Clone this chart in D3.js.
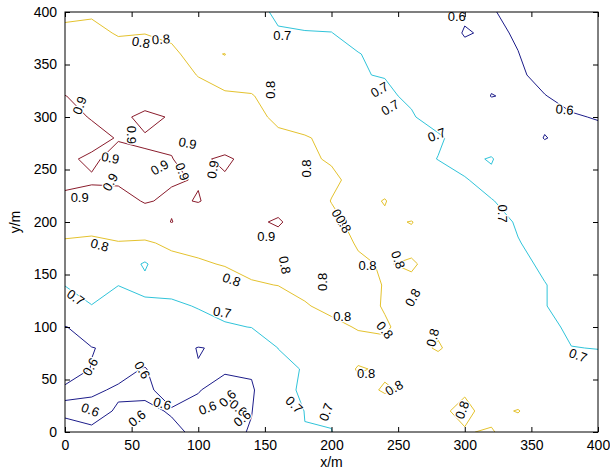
<!DOCTYPE html>
<html>
<head>
<meta charset="utf-8">
<script src="https://cdn.jsdelivr.net/npm/d3@7"></script>
<style>
  body { margin: 0; background: #fff; }
  text { font-family: "Liberation Sans", Arial, Helvetica, sans-serif; }
</style>
</head>
<body>
<svg id="chart" width="610" height="474"></svg>
<script>
// ---------------- data ----------------
const xTicks = [0, 50, 100, 150, 200, 250, 300, 350, 400];
const yTicks = [0, 50, 100, 150, 200, 250, 300, 350, 400];
const gridX = [0,20,40,60,80,100,120,140,160,180,200,220,240,260,280,300,320,340,360,380,400];
const gridY = [400,380,360,340,320,300,280,260,240,220,200,180,160,140,120,100,80,60,40,20,0];
const levels = [0.6, 0.7, 0.8, 0.9];
const levelColors = ["#1c1c8a", "#30c4da", "#e4c22e", "#8a1c2c"];
// rows listed from y = 400 (top) down to y = 0 (bottom); columns x = 0 .. 400
const zGrid = [
 [0.79,0.795,0.79,0.79,0.78,0.77,0.75,0.72,0.69,0.685,0.68,0.675,0.67,0.66,0.63,0.61,0.605,0.58,0.57,0.56,0.55],
 [0.81,0.81,0.797,0.799,0.795,0.775,0.755,0.735,0.705,0.702,0.701,0.68,0.67,0.665,0.64,0.595,0.61,0.595,0.575,0.565,0.555],
 [0.83,0.825,0.815,0.82,0.805,0.79,0.801,0.75,0.73,0.715,0.71,0.702,0.685,0.675,0.66,0.62,0.61,0.601,0.58,0.57,0.56],
 [0.87,0.865,0.855,0.845,0.825,0.798,0.785,0.785,0.765,0.745,0.725,0.701,0.699,0.69,0.67,0.63,0.615,0.605,0.59,0.58,0.57],
 [0.901,0.885,0.87,0.865,0.84,0.82,0.805,0.802,0.785,0.76,0.74,0.715,0.705,0.695,0.675,0.65,0.598,0.61,0.601,0.59,0.58],
 [0.91,0.898,0.885,0.915,0.895,0.85,0.82,0.815,0.79,0.77,0.75,0.73,0.715,0.703,0.685,0.66,0.635,0.612,0.61,0.603,0.598],
 [0.92,0.91,0.898,0.895,0.895,0.87,0.84,0.815,0.81,0.805,0.785,0.76,0.73,0.71,0.705,0.685,0.66,0.63,0.598,0.615,0.61],
 [0.905,0.895,0.91,0.905,0.901,0.885,0.915,0.87,0.83,0.805,0.797,0.785,0.76,0.715,0.699,0.685,0.705,0.645,0.625,0.625,0.62],
 [0.905,0.903,0.91,0.915,0.905,0.897,0.89,0.86,0.83,0.815,0.806,0.79,0.775,0.75,0.72,0.703,0.685,0.66,0.64,0.635,0.63],
 [0.895,0.89,0.875,0.905,0.89,0.903,0.875,0.865,0.845,0.82,0.799,0.78,0.803,0.76,0.74,0.72,0.702,0.685,0.665,0.655,0.645],
 [0.84,0.83,0.835,0.86,0.902,0.86,0.865,0.875,0.915,0.83,0.808,0.79,0.79,0.802,0.77,0.745,0.72,0.695,0.68,0.67,0.66],
 [0.79,0.785,0.797,0.79,0.815,0.82,0.835,0.85,0.85,0.83,0.815,0.797,0.785,0.785,0.775,0.755,0.735,0.702,0.685,0.675,0.67],
 [0.75,0.76,0.755,0.69,0.775,0.792,0.804,0.815,0.815,0.81,0.812,0.805,0.797,0.806,0.78,0.765,0.745,0.715,0.69,0.68,0.675],
 [0.702,0.73,0.701,0.72,0.73,0.76,0.77,0.795,0.801,0.81,0.815,0.815,0.798,0.79,0.79,0.775,0.755,0.725,0.702,0.68,0.68],
 [0.66,0.698,0.67,0.685,0.685,0.705,0.73,0.75,0.77,0.797,0.81,0.81,0.798,0.795,0.785,0.77,0.75,0.73,0.701,0.69,0.685],
 [0.598,0.62,0.63,0.645,0.655,0.67,0.69,0.702,0.735,0.77,0.79,0.803,0.803,0.79,0.795,0.78,0.765,0.745,0.715,0.69,0.69],
 [0.58,0.599,0.606,0.62,0.63,0.597,0.61,0.63,0.701,0.745,0.775,0.785,0.795,0.79,0.803,0.785,0.77,0.755,0.735,0.701,0.699],
 [0.585,0.601,0.61,0.598,0.625,0.603,0.605,0.61,0.68,0.705,0.775,0.803,0.795,0.79,0.785,0.78,0.77,0.76,0.745,0.72,0.715],
 [0.605,0.605,0.596,0.595,0.61,0.602,0.585,0.59,0.68,0.71,0.76,0.79,0.803,0.795,0.795,0.797,0.785,0.775,0.76,0.745,0.735],
 [0.595,0.59,0.603,0.605,0.598,0.59,0.585,0.598,0.67,0.701,0.705,0.76,0.785,0.79,0.795,0.806,0.79,0.802,0.775,0.76,0.75],
 [0.61,0.605,0.61,0.61,0.605,0.595,0.58,0.605,0.66,0.699,0.699,0.75,0.78,0.79,0.79,0.798,0.803,0.78,0.77,0.765,0.76]
];
// contour labels: [text, x, y, rotation in degrees]
const contourLabels = [
 ["0.8",57,371,10],["0.8",72,374,-5],["0.7",163,378,0],["0.6",294,396,0],
 ["0.8",154,326,-90],["0.9",11,311,-70],["0.9",50,283,90],["0.9",92,275,10],
 ["0.9",34,261,10],["0.9",71,252,-30],["0.9",88,248,70],["0.9",34,238,-60],
 ["0.9",111,250,-80],["0.9",11,223,0],["0.9",151,186,0],
 ["0.8",26,178,15],["0.8",125,145,20],["0.7",8,128,35],["0.7",118,114,10],
 ["0.6",19,62,-60],["0.6",58,59,60],["0.6",19,21,20],["0.6",54,13,-40],
 ["0.6",73,27,15],["0.6",107,23,-20],["0.6",122,32,-45],["0.6",130,23,40],["0.6",133,13,-40],
 ["0.8",165,159,80],["0.8",193,143,-90],["0.8",208,110,0],["0.8",227,159,0],
 ["0.8",250,164,70],["0.8",261,128,-60],["0.8",240,97,50],["0.8",226,56,0],
 ["0.8",247,42,-30],["0.8",276,90,-75],["0.8",298,21,-70],["0.8",181,251,-90],
 ["0.8",206,204,60],["0.8",209,198,60],
 ["0.7",236,326,-30],["0.7",244,309,-30],["0.7",279,283,-20],["0.7",328,208,90],
 ["0.7",385,73,20],["0.6",375,307,5],["0.7",172,26,45],["0.7",196,19,-70]
];
const xLabel = "x/m", yLabel = "y/m";

// ---------------- drawing ----------------
const svg = d3.select("#chart");
const plot = { left: 65, right: 598, top: 12, bottom: 432 };
const x = d3.scaleLinear().domain([0, 400]).range([plot.left, plot.right]);
const y = d3.scaleLinear().domain([0, 400]).range([plot.bottom, plot.top]);

svg.append("rect").attr("width", 610).attr("height", 474).attr("fill", "#fff");

svg.append("clipPath").attr("id", "clip").append("rect")
  .attr("x", plot.left).attr("y", plot.top)
  .attr("width", plot.right - plot.left).attr("height", plot.bottom - plot.top);

const nx = gridX.length, ny = gridY.length;
const values = [];
for (let j = 0; j < ny; j++) {
  const row = zGrid[ny - 1 - j];           // j = 0 -> y = 0
  for (let i = 0; i < nx; i++) values.push(row[i]);
}
const stepX = gridX[1] - gridX[0];
const stepY = gridY[0] - gridY[1];
const contours = d3.contours().size([nx, ny]).thresholds(levels)(values);
const proj = d3.geoTransform({
  point(px, py) { this.stream.point(x(gridX[0] + (px - 0.5) * stepX), y(gridY[ny - 1] + (py - 0.5) * stepY)); }
});
const path = d3.geoPath(proj);

const g = svg.append("g").attr("clip-path", "url(#clip)");
g.selectAll("path.c").data(contours).join("path")
  .attr("class", "c")
  .attr("d", path)
  .attr("fill", "none")
  .attr("stroke", d => levelColors[levels.indexOf(d.value)])
  .attr("stroke-width", 1)
  .attr("stroke-linejoin", "round");

// labels
const lab = svg.append("g").attr("clip-path", "url(#clip)");
lab.selectAll("text").data(contourLabels).join("text")
  .attr("transform", d => `translate(${x(d[1])},${y(d[2])}) rotate(${d[3]})`)
  .attr("text-anchor", "middle")
  .attr("dominant-baseline", "central")
  .attr("font-size", 13)
  .attr("fill", "#000")
  .attr("stroke", "#fff").attr("stroke-width", 2.5).attr("paint-order", "stroke")
  .text(d => d[0]);

// axes box & ticks
const axG = svg.append("g");
axG.append("rect")
  .attr("x", plot.left).attr("y", plot.top)
  .attr("width", plot.right - plot.left).attr("height", plot.bottom - plot.top)
  .attr("fill", "none").attr("stroke", "#000").attr("stroke-width", 1);

const tl = 5;
const bottomAxis = d3.axisBottom(x).tickValues(xTicks).tickSize(-tl).tickPadding(8).tickFormat(d3.format("d"));
const topAxis = d3.axisTop(x).tickValues(xTicks).tickSize(-tl).tickFormat("");
const leftAxis = d3.axisLeft(y).tickValues(yTicks).tickSize(-tl).tickPadding(8).tickFormat(d3.format("d"));
const rightAxis = d3.axisRight(y).tickValues(yTicks).tickSize(-tl).tickFormat("");

function styleAxis(sel) {
  sel.select(".domain").remove();
  sel.selectAll(".tick line").attr("stroke", "#000");
  sel.selectAll(".tick text").attr("font-size", 14).attr("fill", "#000")
     .attr("font-family", "'Liberation Sans', Arial, sans-serif");
}
axG.append("g").attr("transform", `translate(0,${plot.bottom})`).call(bottomAxis).call(styleAxis);
axG.append("g").attr("transform", `translate(0,${plot.top})`).call(topAxis).call(styleAxis);
axG.append("g").attr("transform", `translate(${plot.left},0)`).call(leftAxis).call(styleAxis);
axG.append("g").attr("transform", `translate(${plot.right},0)`).call(rightAxis).call(styleAxis);

svg.append("text").attr("x", (plot.left + plot.right) / 2).attr("y", 467)
  .attr("text-anchor", "middle").attr("font-size", 14).text(xLabel);
svg.append("text").attr("transform", `translate(15,${(plot.top + plot.bottom) / 2}) rotate(-90)`)
  .attr("text-anchor", "middle").attr("dominant-baseline", "central").attr("font-size", 14).text(yLabel);
</script>
</body>
</html>
